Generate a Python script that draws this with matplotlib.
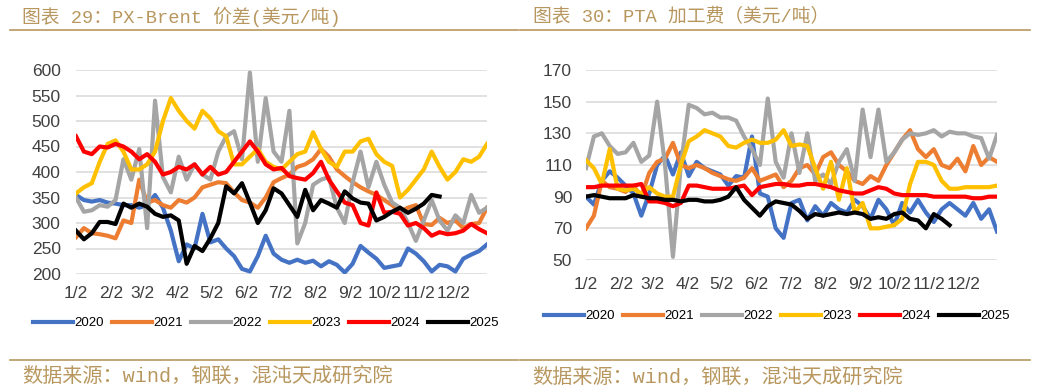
import numpy as np
import matplotlib
matplotlib.use("Agg")
import matplotlib.pyplot as plt
from matplotlib.lines import Line2D

plt.rcParams['font.family'] = ['Liberation Sans', 'Noto Sans CJK SC', 'DejaVu Sans']

# weekly samples, day of year
days = np.arange(1, 366, 7)
month_days = [1, 32, 60, 91, 121, 152, 182, 213, 244, 274, 305, 335]
month_labels = ['1/2', '2/2', '3/2', '4/2', '5/2', '6/2', '7/2', '8/2',
                '9/2', '10/2', '11/2', '12/2']
years = ['2020', '2021', '2022', '2023', '2024', '2025']
colors = ['#4472C4', '#ED7D31', '#A5A5A5', '#FFC000', '#FF0000', '#000000']

# PX-Brent spread (USD/t)
px_2020 = [355, 345, 342, 345, 340, 338, 335, 335, 330, 335, 355, 330, 285, 225, 258, 250, 318, 262,
           268, 250, 235, 210, 205, 235, 275, 240, 228, 222, 228, 222, 226, 215, 225, 218, 203, 220,
           255, 242, 230, 212, 215, 218, 250, 240, 225, 205, 218, 215, 205, 230, 238, 245, 258]
px_2021 = [272, 290, 280, 278, 275, 270, 305, 300, 385, 340, 345, 335, 330, 345, 340, 350, 370, 375,
           380, 378, 360, 345, 340, 330, 350, 380, 388, 395, 410, 415, 425, 445, 430, 405, 392, 380,
           370, 362, 355, 345, 335, 322, 330, 335, 298, 296, 310, 300, 305, 290, 298, 300, 330]
px_2022 = [350, 322, 325, 335, 332, 345, 425, 385, 445, 290, 540, 390, 360, 430, 385, 415, 395, 385,
           440, 470, 480, 425, 595, 420, 545, 440, 420, 520, 260, 300, 375, 385, 390, 330, 300, 380,
           440, 370, 420, 375, 340, 330, 300, 265, 305, 345, 305, 285, 315, 300, 355, 320, 330]
px_2023 = [358, 370, 378, 420, 455, 462, 440, 405, 405, 415, 440, 500, 545, 520, 500, 485, 520, 505,
           480, 470, 415, 415, 430, 445, 420, 410, 405, 420, 435, 440, 478, 445, 420, 410, 440, 440,
           460, 465, 435, 420, 412, 350, 365, 385, 405, 440, 410, 385, 400, 425, 420, 430, 455]
px_2024 = [470, 440, 435, 450, 448, 455, 450, 440, 425, 435, 420, 395, 400, 410, 405, 415, 395, 410,
           395, 400, 420, 440, 460, 440, 415, 405, 408, 392, 388, 385, 398, 420, 385, 362, 340, 335,
           300, 295, 360, 320, 322, 318, 295, 300, 290, 275, 282, 278, 280, 285, 298, 288, 280]
px_2025 = [285, 268, 280, 302, 302, 298, 338, 330, 338, 332, 318, 312, 315, 305, 220, 255, 245, 270,
           300, 372, 358, 378, 340, 300, 325, 368, 358, 335, 312, 365, 325, 345, 338, 330, 362, 348,
           340, 338, 305, 312, 322, 330, 320, 328, 338, 355, 352]

# PTA processing fee (USD/t)
pta_2020 = [90, 85, 100, 106, 102, 97, 92, 78, 92, 110, 116, 104, 118, 103, 112, 108, 106, 104,
            97, 103, 102, 128, 92, 90, 70, 64, 86, 88, 75, 84, 78, 86, 82, 80, 88, 84,
            76, 88, 82, 72, 86, 80, 88, 80, 74, 82, 86, 82, 78, 86, 76, 82, 68]
pta_2021 = [70, 78, 100, 96, 95, 93, 97, 90, 105, 112, 114, 124, 110, 108, 110, 108, 105, 103,
            101, 100, 102, 108, 100, 102, 104, 96, 100, 108, 110, 104, 115, 118, 110, 106, 100, 98,
            103, 100, 110, 118, 126, 132, 120, 115, 120, 110, 108, 114, 106, 122, 110, 115, 112]
pta_2022 = [108, 128, 130, 122, 117, 118, 124, 112, 116, 150, 110, 52, 110, 148, 146, 142, 143, 140,
            140, 138, 128, 120, 110, 152, 112, 102, 130, 105, 130, 100, 104, 98, 112, 120, 100, 145,
            115, 145, 112, 118, 126, 130, 129, 130, 132, 128, 131, 130, 130, 128, 127, 114, 129]
pta_2023 = [113, 108, 98, 120, 95, 94, 95, 92, 96, 92, 90, 90, 110, 125, 128, 132, 130, 128,
            122, 121, 124, 126, 124, 124, 126, 132, 122, 123, 122, 108, 95, 112, 88, 108, 80, 86,
            70, 70, 71, 72, 76, 98, 112, 112, 110, 100, 95, 95, 96, 96, 96, 96, 97]
pta_2024 = [96, 96, 97, 97, 97, 97, 97, 98, 87, 87, 86, 84, 86, 97, 97, 96, 95, 95,
            95, 96, 97, 91, 96, 97, 98, 98, 97, 97, 98, 98, 97, 96, 94, 93, 92, 92,
            94, 96, 95, 92, 91, 91, 91, 91, 90, 90, 90, 90, 90, 89, 89, 90, 90]
pta_2025 = [90, 91, 90, 89, 89, 89, 91, 90, 89, 89, 88, 88, 87, 88, 88, 87, 87, 88,
            90, 96, 88, 83, 78, 84, 87, 86, 85, 81, 76, 79, 78, 79, 80, 79, 80, 79,
            76, 77, 76, 79, 80, 76, 75, 70, 79, 76, 72]

gold = '#B8975F'
head_font = ['Liberation Mono', 'Noto Sans CJK SC']
W, H = 1038, 388


def draw_panel(ax, series, ylim, step, xpad, ypad):
    for name, vals, c in zip(years, series, colors):
        ax.plot(days[:len(vals)], vals, color=c, lw=3.0, label=name, solid_joinstyle='round')
    ax.set_xlim(1, 365)
    ax.set_ylim(*ylim)
    ax.set_yticks(np.arange(ylim[0], ylim[1] + 1, step))
    ax.set_xticks(month_days, month_labels)
    ax.grid(axis='y', color='#d9d9d9', lw=1.1)
    ax.grid(axis='x', visible=False)
    ax.set_axisbelow(True)
    for s in ax.spines.values():
        s.set_visible(False)
    ax.tick_params(length=0, labelsize=12.5, labelcolor='#404040')
    ax.tick_params(axis='x', pad=xpad)
    ax.tick_params(axis='y', pad=ypad)


fig = plt.figure(figsize=(W / 100, H / 100), dpi=100)

ax1 = fig.add_axes([76 / W, 1 - 274 / H, 411 / W, 204 / H])
draw_panel(ax1, [px_2020, px_2021, px_2022, px_2023, px_2024, px_2025], (200, 600), 50, 9, 11)

ax2 = fig.add_axes([586 / W, 1 - 260 / H, 411 / W, 190 / H])
draw_panel(ax2, [pta_2020, pta_2021, pta_2022, pta_2023, pta_2024, pta_2025], (50, 170), 20, 12, 10)

for ax, (cx, cy) in [(ax1, (266, 323)), (ax2, (777, 316))]:
    h, l = ax.get_legend_handles_labels()
    fig.legend(h, l, loc='center', bbox_to_anchor=(cx / W, 1 - cy / H), ncol=6, frameon=False,
               fontsize=9.5, handlelength=3.0, handletextpad=0.15, columnspacing=0.6)

# titles, rules and source notes
fig.text(22 / W, 1 - 17 / H, '图表 29：PX-Brent 价差(美元/吨)', va='center', fontsize=13.5,
         color=gold, family=head_font)
fig.text(533 / W, 1 - 17 / H, '图表 30：PTA 加工费（美元/吨）', va='center', fontsize=13.5,
         color=gold, family=head_font)
for x0, x1 in [(10, 518), (520, 1030)]:
    for y in (30, 360):
        fig.add_artist(Line2D([x0 / W, x1 / W], [1 - y / H] * 2, color=gold, lw=1.2))
fig.text(22 / W, 1 - 376 / H, '数据来源：wind，钢联，混沌天成研究院', va='center', fontsize=14.5,
         color=gold, family=head_font)
fig.text(532 / W, 1 - 377 / H, '数据来源：wind，钢联，混沌天成研究院', va='center', fontsize=14.5,
         color=gold, family=head_font)

fig.savefig('out.png', dpi=100)
